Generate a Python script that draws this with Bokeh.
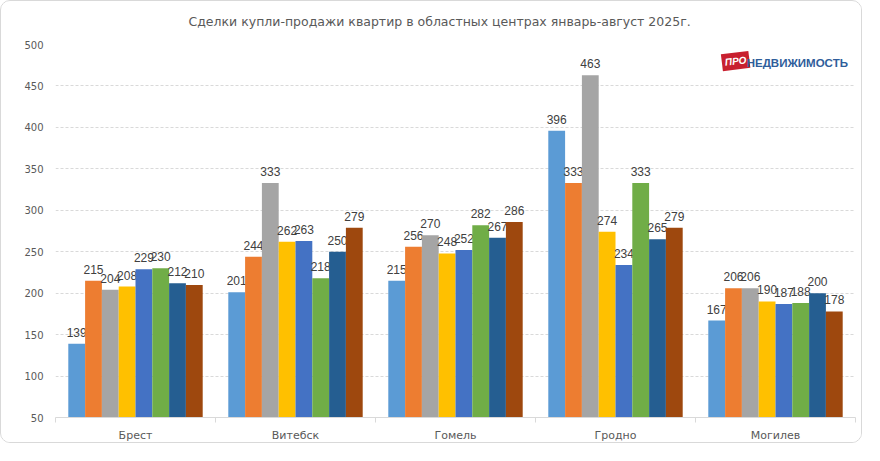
from bokeh.plotting import figure
from bokeh.models import Range1d, FixedTicker, ColumnDataSource, Label, Title
from bokeh.core.properties import value
from bokeh.embed import file_html
from bokeh.resources import INLINE

# ---- data ----
cities = ["Брест", "Витебск", "Гомель", "Гродно", "Могилев"]
months = ["Январь", "Февраль", "Март", "Апрель", "Май", "Июнь", "Июль", "Август"]
jan = [139, 201, 215, 396, 167]
feb = [215, 244, 256, 333, 206]
mar = [204, 333, 270, 463, 206]
apr = [208, 262, 248, 274, 190]
may = [229, 263, 252, 234, 187]
jun = [230, 218, 282, 333, 188]
jul = [212, 250, 267, 265, 200]
aug = [210, 279, 286, 279, 178]
series = [jan, feb, mar, apr, may, jun, jul, aug]
colors = ["#5B9BD5", "#ED7D31", "#A5A5A5", "#FFC000",
          "#4472C4", "#70AD47", "#255E91", "#9E480E"]
y_ticks = list(range(50, 501, 50))
title = "Сделки купли-продажи квартир в областных центрах январь-август 2025г."

LABEL_FONT = "Liberation Sans"
AXIS_FONT = "DejaVu Sans"

p = figure(width=862, height=443, output_backend="svg", toolbar_location=None,
           x_range=Range1d(0, len(cities)), y_range=Range1d(50, 500),
           min_border_left=54, min_border_right=8, min_border_top=43, min_border_bottom=26,
           styles={"border": "1px solid #d9d9d9", "border-radius": "10px", "overflow": "hidden"})

p.title.text = title
p.title.align = "left"
p.title.offset = 133
p.title.text_font = AXIS_FONT
p.title.text_font_size = "12.5px"
p.title.text_font_style = "normal"
p.title.text_color = "#595959"
p.title.standoff = 0
# empty spacer between the title and the frame
p.add_layout(Title(text=" ", text_font_size="12px", standoff=0), "above")

p.outline_line_color = None
p.background_fill_color = "white"
p.border_fill_color = "white"

n = len(series)
bw = 0.84 / n
for j, (vals, col) in enumerate(zip(series, colors)):
    xs = [i + 0.5 + (j - (n - 1) / 2) * bw for i in range(len(cities))]
    src = ColumnDataSource(dict(x=xs, top=vals, lab=[str(v) for v in vals]))
    p.vbar(x="x", top="top", bottom=50, width=bw, source=src,
           fill_color=col, line_color=None, legend_label=months[j])
    p.text(x="x", y="top", text="lab", source=src, text_align="center",
           text_baseline="bottom", y_offset=-7, text_font=value(LABEL_FONT),
           text_font_size="12px", text_color="#404040")

p.legend.visible = False

# axes
p.xgrid.grid_line_color = None
p.ygrid.grid_line_color = "#D9D9D9"
p.ygrid.grid_line_dash = "3 2"
p.ygrid.ticker = FixedTicker(ticks=y_ticks)

p.yaxis.ticker = FixedTicker(ticks=y_ticks)
p.yaxis.axis_line_color = None
p.yaxis.major_tick_line_color = None
p.yaxis.minor_tick_line_color = None
p.yaxis.major_tick_out = 0
p.yaxis.major_label_standoff = 12
p.yaxis.major_label_text_font = AXIS_FONT
p.yaxis.major_label_text_font_size = "10px"
p.yaxis.major_label_text_color = "#595959"

centers = [i + 0.5 for i in range(len(cities))]
p.xaxis.ticker = FixedTicker(ticks=centers, minor_ticks=list(range(len(cities) + 1)))
p.xaxis.major_label_overrides = {c: name for c, name in zip(centers, cities)}
p.xaxis.axis_line_color = "#D9D9D9"
p.xaxis.major_tick_line_color = None
p.xaxis.major_tick_out = 0
p.xaxis.major_tick_in = 0
p.xaxis.minor_tick_line_color = "#D9D9D9"
p.xaxis.minor_tick_out = 5
p.xaxis.minor_tick_in = 0
p.xaxis.major_label_standoff = 6
p.xaxis.major_label_text_font = AXIS_FONT
p.xaxis.major_label_text_font_size = "11px"
p.xaxis.major_label_text_color = "#595959"

# logo (decoration)
p.add_layout(Label(x=4.165, y=478, text="ПРО", text_color="white",
                   text_font="Liberation Sans", text_font_size="10px",
                   text_font_style="bold italic", text_baseline="middle",
                   background_fill_color="#C8202F", padding=3, angle=0.12))
p.add_layout(Label(x=4.32, y=478, text="НЕДВИЖИМОСТЬ", text_color="#2F5D9A",
                   text_font="Liberation Sans",
                   text_font_size="11.5px", text_font_style="bold",
                   text_baseline="middle"))

open("out.html", "w").write(file_html(p, INLINE))
